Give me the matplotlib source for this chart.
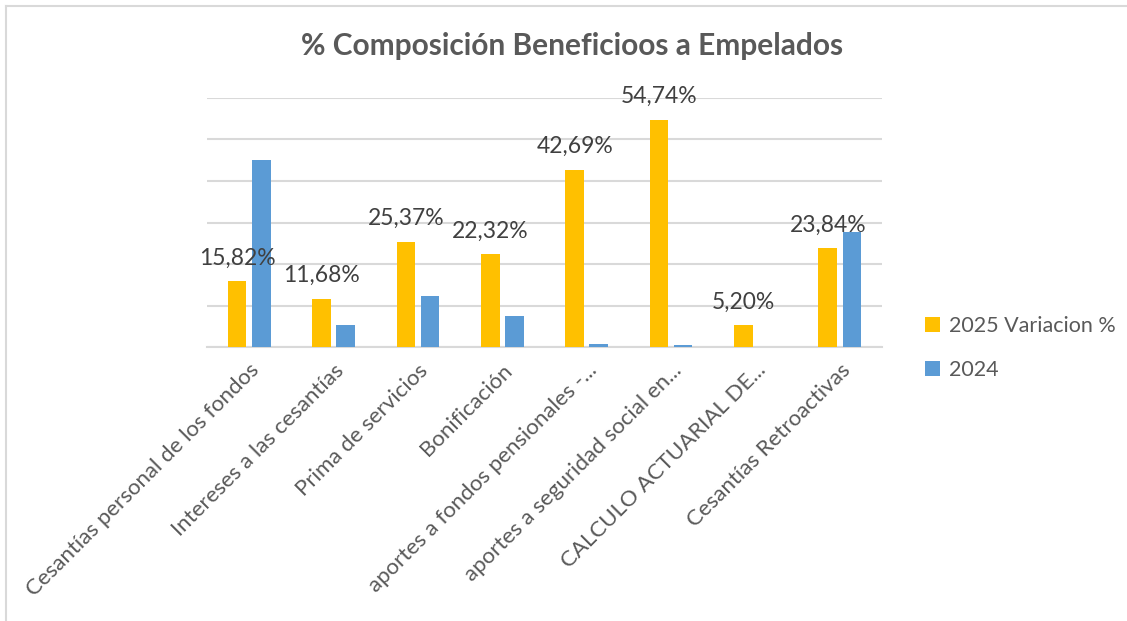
import matplotlib
matplotlib.use("Agg")
import matplotlib.pyplot as plt
import numpy as np

categories = [
    "Cesantías personal de los fondos",
    "Intereses a las cesantías",
    "Prima de servicios",
    "Bonificación",
    "aportes a fondos pensionales -...",
    "aportes a seguridad social en...",
    "CALCULO ACTUARIAL DE...",
    "Cesantías Retroactivas",
]
values_2025 = [15.82, 11.68, 25.37, 22.32, 42.69, 54.74, 5.20, 23.84]
values_2024 = [45.0, 5.2, 12.4, 7.5, 0.65, 0.4, 0.0, 27.8]
labels_2025 = ["15,82%", "11,68%", "25,37%", "22,32%", "42,69%", "54,74%", "5,20%", "23,84%"]
series_names = ["2025 Variacion %", "2024"]
title = "% Composición Beneficioos a Empelados"

plt.rcParams['font.family'] = ['Lato', 'DejaVu Sans']
W, H = 1127, 621
fig = plt.figure(figsize=(W / 100, H / 100), dpi=100)
ax = fig.add_axes([207 / W, 1 - 347 / H, (882 - 207) / W, (347 - 98) / H])

x = np.arange(len(categories))
bw = 0.222
off = 0.143
yellow = "#FFC000"
blue = "#5B9BD5"
b1 = ax.bar(x - off, values_2025, bw, color=yellow, label=series_names[0], zorder=3)
b2 = ax.bar(x + off, values_2024, bw, color=blue, label=series_names[1], zorder=3)

for xi, v, lab in zip(x, values_2025, labels_2025):
    ax.annotate(lab, (xi - off, v), xytext=(0, 9), textcoords="offset points",
                ha="center", va="bottom", fontsize=16.5, color="#404040", zorder=4)

ax.set_xlim(-0.5, len(categories) - 0.5)
ax.set_ylim(0, 60)
ax.set_yticks(np.arange(0, 61, 10))
ax.yaxis.grid(True, color="#d9d9d9", linewidth=1.5, zorder=0)
ax.tick_params(axis="y", left=False, labelleft=False)
ax.tick_params(axis="x", bottom=False, pad=6)
for s in ["top", "right", "left"]:
    ax.spines[s].set_visible(False)
ax.spines["bottom"].set_color("#d9d9d9")
ax.spines["bottom"].set_linewidth(1.5)
ax.set_xticks(x)
ax.set_xticklabels(categories, rotation=45, ha="right", va="top",
                   rotation_mode="anchor", fontsize=16, color="#595959")

fig.text(572 / W, 1 - 46 / H, title, ha="center", va="center",
         fontsize=21.5, fontweight="bold", color="#595959")

leg = fig.legend(handles=[b1, b2], labels=series_names, loc="center left",
                 bbox_to_anchor=(906 / W, 1 - 348 / H), frameon=False,
                 fontsize=15.5, labelcolor="#595959", handlelength=0.7,
                 handleheight=0.7, handletextpad=0.4, labelspacing=1.1)

# outer chart border (top and left visible)
fig.add_artist(plt.Line2D([6 / W, 6 / W], [0, 1 - 6 / H], color="#d9d9d9", lw=1.5))
fig.add_artist(plt.Line2D([6 / W, 1], [1 - 6 / H, 1 - 6 / H], color="#d9d9d9", lw=1.5))

fig.savefig("out.png", dpi=100)
